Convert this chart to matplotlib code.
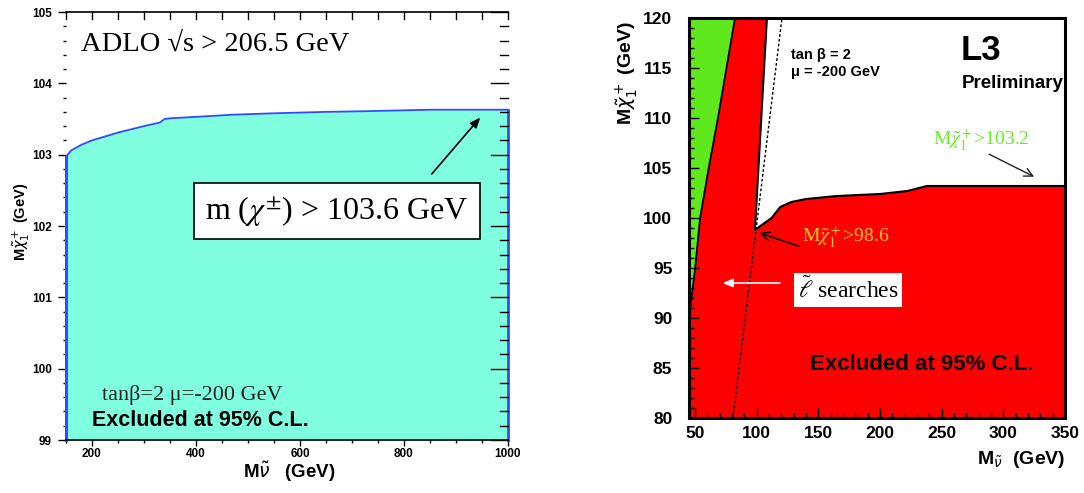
import numpy as np
import matplotlib
matplotlib.use('Agg')
import matplotlib.pyplot as plt
from matplotlib.ticker import MultipleLocator
from matplotlib.transforms import blended_transform_factory

plt.rcParams['font.family'] = ['Liberation Sans', 'DejaVu Sans']
plt.rcParams['mathtext.fontset'] = 'stix'

SERIF = ['Liberation Serif', 'DejaVu Serif']

# ADLO combined chargino limit vs sneutrino mass
snu_mass = [150, 160, 180, 200, 250, 300, 330, 340, 350, 400, 470, 550, 650, 730, 850, 1000]
chargino_limit = [102.97, 103.06, 103.14, 103.20, 103.31, 103.40, 103.45, 103.50, 103.51,
                  103.53, 103.56, 103.58, 103.60, 103.61, 103.63, 103.63]
adlo_bound = 103.6

# L3 exclusion: slepton search edge, chargino contour, kinematic line
slepton_x = [45, 50, 54, 61, 68.5, 82.3]
slepton_y = [90, 95, 100, 105, 110, 120]
strip_x = [108.2, 98.5]
strip_y = [120, 98.8]
contour_x = [98.5, 104, 112, 119, 128, 140, 165, 200, 222, 238, 350]
contour_y = [98.8, 99.3, 100.0, 101.1, 101.6, 101.9, 102.2, 102.4, 102.7, 103.2, 103.2]
kin_x = [80.7, 120.4]
kin_y = [80, 120]
l3_high = 103.2
l3_low = 98.6

W, H = 1084, 493
fig = plt.figure(figsize=(W / 100, H / 100), dpi=100)


def rect(x0, y0, x1, y1):
    return [x0 / W, 1 - y1 / H, (x1 - x0) / W, (y1 - y0) / H]


# ---------------- left panel ----------------
ax = fig.add_axes(rect(66, 12, 508, 440))
ax.set_xlim(150, 1000)
ax.set_ylim(99, 105)
ax_w, ax_h = 442.0, 428.0  # frame size in pixels

xs = np.array(snu_mass)
ys = np.array(chargino_limit)
ax.fill_between(xs, 99, ys, color='#7fffdf', lw=0)
ax.plot(xs, ys, color='#2f4cff', lw=1.3)
ax.plot([xs[0], xs[0]], [99, ys[0]], color='#2f4cff', lw=2.2, clip_on=False)
ax.plot([xs[-1], xs[-1]], [99, ys[-1]], color='#2f4cff', lw=2.0, clip_on=False)

ax.spines['left'].set_visible(False)
ax.spines['right'].set_visible(False)
ax.spines['top'].set_linewidth(1.2)
ax.spines['bottom'].set_linewidth(1.2)

ax.xaxis.set_major_locator(MultipleLocator(200))
ax.xaxis.set_minor_locator(MultipleLocator(50))
ax.yaxis.set_major_locator(MultipleLocator(1))
ax.yaxis.set_minor_locator(MultipleLocator(0.2))
ax.tick_params(axis='x', which='major', direction='out', length=4, width=1, pad=2)
ax.tick_params(axis='x', which='minor', direction='out', length=2.5, width=1)
ax.tick_params(axis='y', which='major', direction='out', length=6, width=1, pad=4)
ax.tick_params(axis='y', which='minor', direction='out', length=2.5, width=1)
for lab in ax.get_xticklabels() + ax.get_yticklabels():
    lab.set_fontweight('bold')
    lab.set_fontsize(8.5)

# inward ticks along the top and right edges
top_tr = blended_transform_factory(ax.transData, ax.transAxes)
right_tr = blended_transform_factory(ax.transAxes, ax.transData)
for xv in np.arange(150, 1001, 50):
    ax.plot([xv, xv], [1, 1 - 7 / ax_h], transform=top_tr, color='black', lw=1,
            clip_on=False, zorder=6)
for yv in np.arange(99, 105.01, 0.2):
    major = abs(yv - round(yv)) < 1e-6
    length = 17 if major else 8
    ax.plot([1, 1 - length / ax_w], [yv, yv], transform=right_tr, color='black', lw=1,
            clip_on=False, zorder=6)

ax.set_xlabel(r'M$\tilde{\nu}$   (GeV)', fontsize=13.5, fontweight='bold', va='center',
              math_fontfamily='dejavusans')
ax.xaxis.set_label_coords(0.505, -0.074)
ax.set_ylabel(r'M$\tilde{\chi}_1^+$ (GeV)', fontsize=10.5, fontweight='bold', va='center',
              math_fontfamily='dejavusans')
ax.yaxis.set_label_coords(-0.102, 0.51)

ax.text(178, 104.55, 'ADLO √s > 206.5 GeV', family=SERIF, fontsize=20.5, va='center')
ax.text(671, 102.21, r'm ($\chi^{\pm}$) > %.1f GeV' % adlo_bound, family=SERIF, fontsize=23,
        ha='center', va='center', zorder=7,
        bbox=dict(boxstyle='square,pad=0.35', fc='white', ec='black', lw=1.2))
ax.annotate('', xy=(950, 103.55), xytext=(850, 102.70),
            arrowprops=dict(arrowstyle='-|>,head_length=0.6,head_width=0.25', color='black', lw=1.2))
ax.text(220, 99.63, 'tanβ=2 μ=-200 GeV', family=SERIF, fontsize=16, va='center', color='#222222')
ax.text(200, 99.28, 'Excluded at 95% C.L.', fontsize=15.5, fontweight='bold', va='center')

# ---------------- right panel ----------------
bx = fig.add_axes(rect(689, 18, 1065, 418))
bx.set_xlim(45, 350)
bx.set_ylim(80, 120)

red_x = [45, 350] + contour_x[::-1] + strip_x[::-1] + slepton_x[::-1]
red_y = [80, 80] + contour_y[::-1] + strip_y[::-1] + slepton_y[::-1]
bx.fill(red_x, red_y, color='#ff0000', lw=0)
bx.fill([45] + slepton_x, [120] + slepton_y, color='#5fe81e', lw=0)

bx.plot(slepton_x, slepton_y, color='black', lw=1.3)
bx.plot(strip_x + contour_x[1:], strip_y + contour_y[1:], color='black', lw=1.5)
bx.plot(kin_x, kin_y, color='black', lw=1, ls=(0, (2, 1.5)))

for s in bx.spines.values():
    s.set_linewidth(2.2)

bx.xaxis.set_major_locator(MultipleLocator(50))
bx.xaxis.set_minor_locator(MultipleLocator(10))
bx.yaxis.set_major_locator(MultipleLocator(5))
bx.yaxis.set_minor_locator(MultipleLocator(1))
bx.tick_params(which='major', direction='in', length=7, width=1, pad=12)
bx.tick_params(axis='x', which='major', pad=6)
bx.tick_params(which='minor', direction='in', length=3.5, width=1)
for lab in bx.get_xticklabels() + bx.get_yticklabels():
    lab.set_fontweight('bold')
    lab.set_fontsize(12.5)

fig.text(627 / W, 1 - 73 / H, r'M$\tilde{\chi}_1^+$ (GeV)', rotation=90, ha='center', va='center',
         fontsize=14, fontweight='bold', math_fontfamily='dejavusans')
fig.text(1065 / W, 1 - 460 / H, r'M$_{\tilde{\nu}}$  (GeV)', ha='right', va='center',
         fontsize=14, fontweight='bold', math_fontfamily='dejavusans')

bx.text(128, 116.3, 'tan β = 2', fontsize=10.5, fontweight='bold', va='center')
bx.text(128, 114.6, 'μ = -200 GeV', fontsize=10.5, fontweight='bold', va='center')
bx.text(281.6, 115.1, 'L3', fontsize=25, fontweight='bold', ha='center', va='bottom')
bx.text(349, 113.5, 'Preliminary', fontsize=13.5, fontweight='bold', ha='right', va='center')

bx.text(243, 107.8, r'M$\tilde{\chi}_1^+$>%.1f' % l3_high, family=SERIF, fontsize=14,
        color='#66ee22', va='center')
bx.annotate('', xy=(327, 104.0), xytext=(286.5, 106.5),
            arrowprops=dict(arrowstyle='->,head_length=0.6,head_width=0.3', color='#222222', lw=1))
bx.text(137, 98.1, r'M$\tilde{\chi}_1^+$>%.1f' % l3_low, family=SERIF, fontsize=14,
        color='#ffcc22', va='center')
bx.annotate('', xy=(100, 98.6), xytext=(136, 97.1),
            arrowprops=dict(arrowstyle='->,head_length=0.6,head_width=0.3', color='#111111', lw=1.2))

bx.text(174, 92.8, r'$\tilde{\ell}$ searches', family=SERIF, fontsize=17, ha='center', va='center',
        bbox=dict(boxstyle='square,pad=0.15', fc='white', ec='none'))
bx.annotate('', xy=(70, 93.5), xytext=(121, 93.5),
            arrowprops=dict(arrowstyle='-|>,head_length=0.6,head_width=0.25', color='white', lw=1.2))
bx.text(234, 85.4, 'Excluded at 95% C.L.', fontsize=16, fontweight='bold', ha='center', va='center')

fig.savefig('out.png', dpi=100)
